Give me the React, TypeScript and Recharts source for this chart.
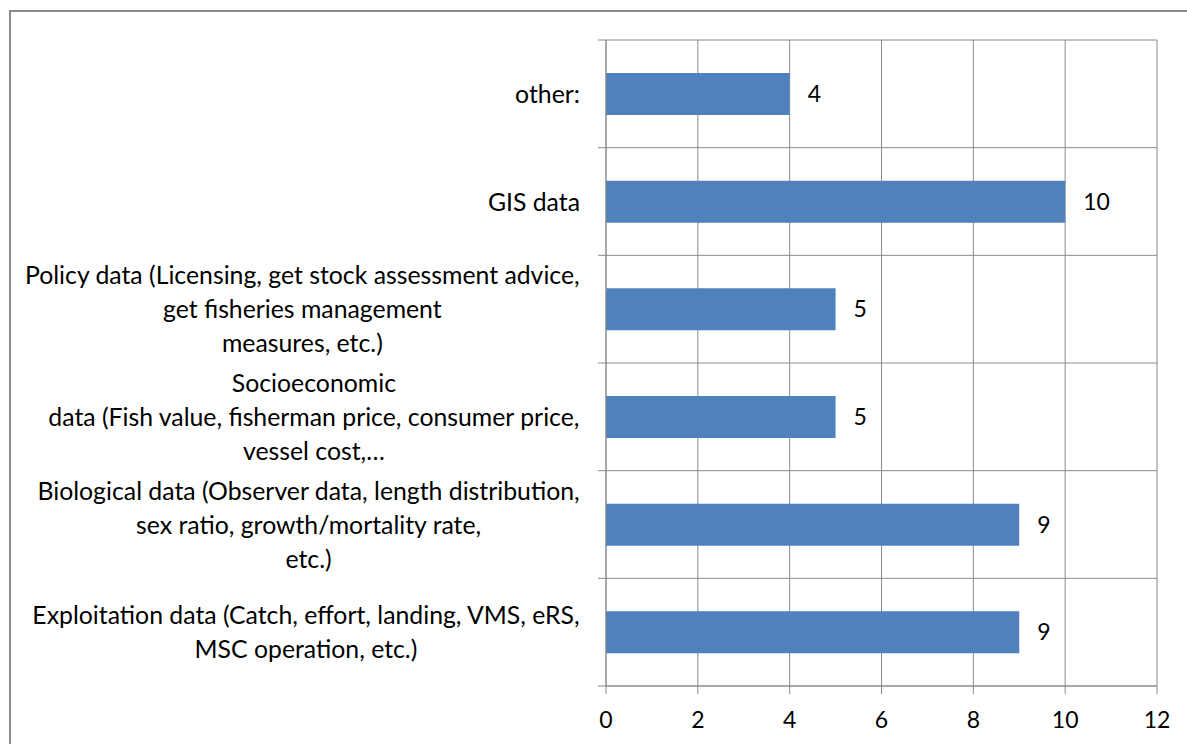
import React from "react";
import {
  BarChart,
  Bar,
  XAxis,
  YAxis,
  CartesianGrid,
  LabelList,
} from "recharts";

// categories top to bottom, "\n" marks a line break in the axis label
const CATEGORIES = [
  "other:",
  "GIS data",
  "Policy data (Licensing, get stock assessment advice,\nget fisheries management\nmeasures, etc.)",
  "Socioeconomic\ndata (Fish value, fisherman price, consumer price,\nvessel cost,…",
  "Biological data (Observer data, length distribution,\nsex ratio, growth/mortality rate,\netc.)",
  "Exploitation data (Catch, effort, landing, VMS, eRS,\nMSC operation, etc.)",
];
const ANSWERS = [4, 10, 5, 5, 9, 9];
const X_TICKS = [0, 2, 4, 6, 8, 10, 12];

const data = CATEGORIES.map((name, i) => ({ name, value: ANSWERS[i] }));

const FONT = "Lato, 'Open Sans', sans-serif";
const LABEL_SIZE = 24.8;
const NUM_SIZE = 23;
const LINE_H = 34;
const GRID = "#8a8a8a";
const BAR = "#4f81bd";

const W = 1187;
const H = 744;
const M_TOP = 40;
const M_RIGHT = 30;
const X_AXIS_H = 58;
const Y_AXIS_W = 606;

let ctx: CanvasRenderingContext2D | null = null;
const textWidth = (s: string) => {
  if (!ctx) ctx = document.createElement("canvas").getContext("2d");
  if (!ctx) return s.length * LABEL_SIZE * 0.5;
  ctx.font = `${LABEL_SIZE}px Lato`;
  return ctx.measureText(s).width;
};

const CategoryTick = (props: any) => {
  const { x, y, payload, index, visibleTicksCount } = props;
  const fallback = (H - M_TOP - X_AXIS_H) / CATEGORIES.length / 2;
  const half = payload.offset > 0 ? payload.offset : fallback;
  const lines = String(payload.value).split("\n");
  const widest = Math.max(...lines.map(textWidth));
  const cx = x - 26 - widest / 2;
  const y0 = y - 1 - ((lines.length - 1) * LINE_H) / 2;
  return (
    <g>
      <line x1={x - 8} x2={x} y1={y - half} y2={y - half} stroke={GRID} />
      {index === visibleTicksCount - 1 && (
        <line x1={x - 8} x2={x} y1={y + half} y2={y + half} stroke={GRID} />
      )}
      <text
        x={cx}
        y={y0}
        textAnchor="middle"
        dominantBaseline="central"
        fontFamily={FONT}
        fontSize={LABEL_SIZE}
        fill="#000"
      >
        {lines.map((l, i) => (
          <tspan key={i} x={cx} y={y0 + i * LINE_H}>
            {l}
          </tspan>
        ))}
      </text>
    </g>
  );
};

const App = () => {
  const bandLines = ({ offset }: any) =>
    Array.from(
      { length: CATEGORIES.length + 1 },
      (_, i) => offset.top + (i * offset.height) / CATEGORIES.length
    );

  return (
    <div
      style={{
        position: "absolute",
        left: 0,
        top: 0,
        width: W,
        height: H,
        overflow: "hidden",
        background: "#fff",
      }}
    >
      <div
        style={{
          position: "absolute",
          left: 9,
          top: 10,
          width: 1300,
          height: 900,
          border: `2px solid ${GRID}`,
        }}
      />
      <div style={{ position: "absolute", left: 0, top: 0 }}>
        <BarChart
          width={W}
          height={H}
          data={data}
          layout="vertical"
          margin={{ top: M_TOP, right: M_RIGHT, left: 0, bottom: 0 }}
        >
          <CartesianGrid
            stroke={GRID}
            horizontalCoordinatesGenerator={bandLines}
          />
          <XAxis
            type="number"
            domain={[0, 12]}
            ticks={X_TICKS}
            height={X_AXIS_H}
            tickSize={8}
            tickMargin={18}
            axisLine={{ stroke: GRID }}
            tickLine={{ stroke: GRID }}
            tick={{ fill: "#000", fontSize: NUM_SIZE, fontFamily: FONT }}
          />
          <YAxis
            type="category"
            dataKey="name"
            width={Y_AXIS_W}
            tickSize={0}
            tickMargin={0}
            interval={0}
            axisLine={{ stroke: GRID }}
            tickLine={false}
            tick={<CategoryTick />}
          />
          <Bar dataKey="value" fill={BAR} barSize={42} isAnimationActive={false}>
            <LabelList
              dataKey="value"
              position="right"
              offset={18}
              fill="#000"
              fontSize={NUM_SIZE}
              fontFamily={FONT}
            />
          </Bar>
        </BarChart>
      </div>
    </div>
  );
};

export default App;
